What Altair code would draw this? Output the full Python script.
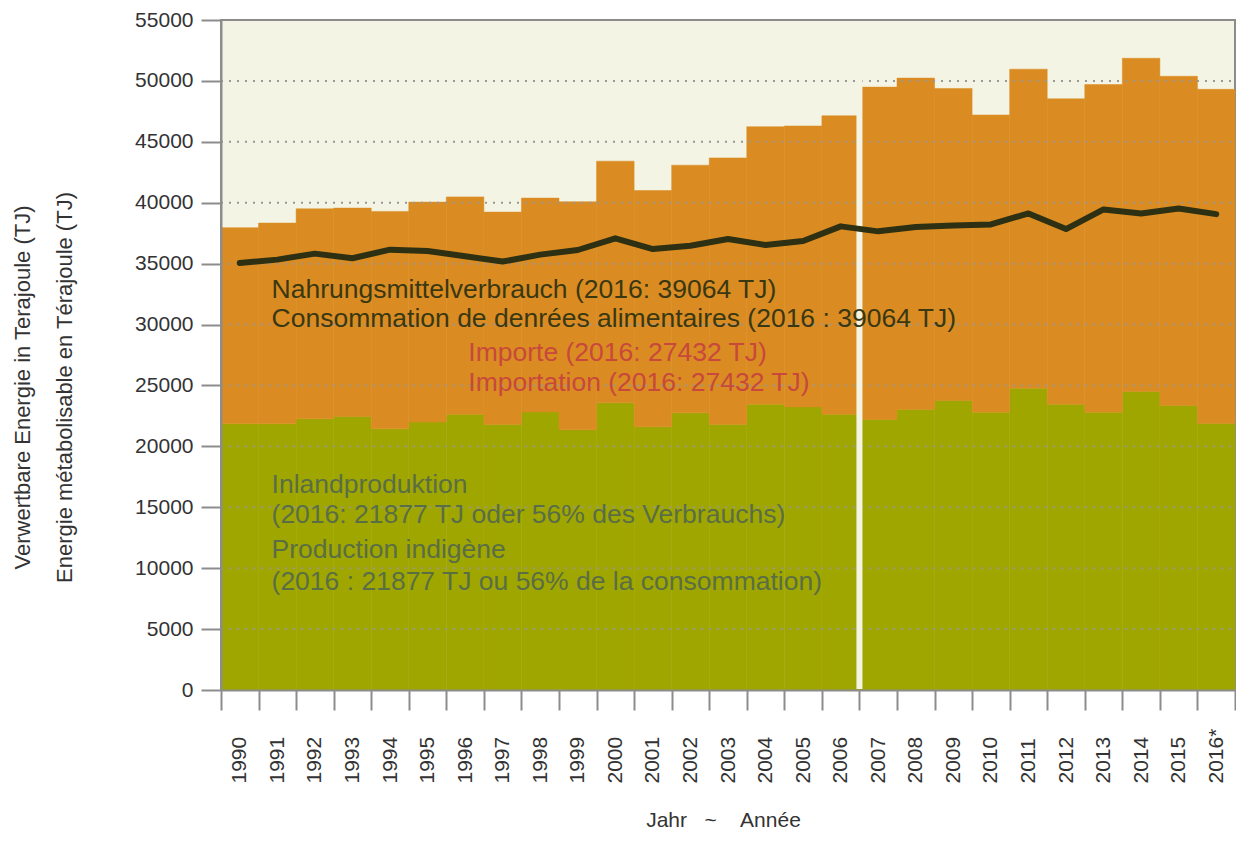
import altair as alt
import pandas as pd

years = ["1990", "1991", "1992", "1993", "1994", "1995", "1996", "1997", "1998", "1999",
         "2000", "2001", "2002", "2003", "2004", "2005", "2006", "2007", "2008", "2009",
         "2010", "2011", "2012", "2013", "2014", "2015", "2016*"]
domestic = [21850, 21850, 22260, 22450, 21440, 21990, 22640, 21800, 22830, 21360,
            23570, 21610, 22750, 21800, 23460, 23240, 22640, 22210, 23030, 23760,
            22810, 24770, 23460, 22810, 24500, 23350, 21877]
imports = [16100, 16480, 17240, 17110, 17850, 18060, 17840, 17430, 17550, 18720,
           19840, 19390, 20330, 21880, 22780, 23060, 24500, 27280, 27200, 25620,
           24390, 26190, 25070, 26890, 27360, 27030, 27432]
consumption = [35060, 35330, 35820, 35440, 36150, 36040, 35600, 35170, 35740, 36120,
               37080, 36200, 36470, 37020, 36530, 36860, 38060, 37650, 38000, 38140,
               38220, 39120, 37840, 39450, 39120, 39530, 39064]
y_ticks = list(range(0, 55001, 5000))
grid_values = list(range(5000, 50001, 5000))
break_year = ["2007"]

ann_left_text = ["Nahrungsmittelverbrauch (2016: 39064 TJ)",
                 "Consommation de denrées alimentaires (2016 : 39064 TJ)",
                 "Inlandproduktion",
                 "(2016: 21877 TJ oder 56% des Verbrauchs)",
                 "Production indigène",
                 "(2016 : 21877 TJ ou 56% de la consommation)"]
ann_left_y = [32165, 29792, 16205, 13668, 10804, 8185]
ann_left_color = ["#3a3812", "#3a3812", "#5a6e46", "#5a6e46", "#5a6e46", "#5a6e46"]
ann_right_text = ["Importe (2016: 27432 TJ)", "Importation (2016: 27432 TJ)"]
ann_right_y = [27009, 24554]

W, H = 1014, 670
CREAM = "#f4f4e4"
GREY = "#8c8c8c"
FONT = "Liberation Sans"

df = pd.DataFrame({"year": years, "domestic": domestic, "imports": imports,
                   "consumption": consumption})

x_scale = alt.Scale(domain=years, paddingInner=0, paddingOuter=0)
y_scale = alt.Scale(domain=[0, 55000], nice=False)

x_axis = alt.Axis(
    title="Jahr\u00a0\u00a0\u00a0~\u00a0\u00a0\u00a0\u00a0Année",
    tickBand="extent", labelAngle=270, labelAlign="left", labelBaseline="middle",
    labelPadding=73, labelFont=FONT, labelFontSize=21, labelColor="#333333",
    labelOverlap=False, labelFlush=False, grid=False,
    tickSize=20, tickWidth=2, tickColor=GREY, domainColor=GREY, domainWidth=2,
    titleX=502, titleY=136, titleAlign="center", titleBaseline="alphabetic",
    titleFont=FONT, titleFontSize=21, titleFontWeight="normal", titleColor="#333333",
    zindex=1)
y_axis = alt.Axis(
    title=["Verwertbare Energie in Terajoule (TJ)", "Energie métabolisable en Térajoule (TJ)"],
    values=y_ticks, format="d", grid=False,
    labelFont=FONT, labelFontSize=21, labelColor="#333333", labelPadding=8,
    tickSize=20, tickWidth=2, tickColor=GREY, domainColor=GREY, domainWidth=2,
    titleFont=FONT, titleFontSize=22, titleFontWeight="normal", titleColor="#333333",
    titleLineHeight=42, titleAngle=270, titleX=-199, titleY=367,
    titleAlign="center", titleBaseline="middle", zindex=1)

X = alt.X("year:O", scale=x_scale, axis=x_axis)

base = alt.Chart(df)

green = base.mark_bar(color="#a0a600", stroke="#a0a600", strokeWidth=0.5).encode(
    x=X,
    y=alt.Y("domestic:Q", scale=y_scale, axis=y_axis),
)
orange = base.transform_calculate(total="datum.domestic + datum.imports").mark_bar(
    color="#da8c22", stroke="#da8c22", strokeWidth=0.5).encode(
    x=X,
    y=alt.Y("total:Q", scale=y_scale, axis=y_axis),
    y2="domestic:Q",
)
grid = alt.Chart(pd.DataFrame({"v": grid_values})).mark_rule(
    color="#979797", strokeWidth=2, strokeDash=[2, 6]).encode(
    y=alt.Y("v:Q", scale=y_scale, axis=y_axis),
    x=alt.value(0), x2=alt.value(W),
)
gap = alt.Chart(pd.DataFrame({"year": break_year})).mark_rule(
    color=CREAM, strokeWidth=6).encode(
    x=alt.X("year:O", scale=x_scale, axis=x_axis, bandPosition=0),
    y=alt.value(1), y2=alt.value(H - 1),
)
line = base.mark_line(color="#2d3012", strokeWidth=6, strokeCap="round",
                      strokeJoin="round").encode(
    x=X,
    y=alt.Y("consumption:Q", scale=y_scale, axis=y_axis),
)
ann_left = alt.Chart(pd.DataFrame({"year": ["1991"] * len(ann_left_text), "v": ann_left_y,
                                   "t": ann_left_text, "c": ann_left_color})).mark_text(
    align="left", baseline="alphabetic", dx=13, font=FONT, fontSize=26.5).encode(
    x=alt.X("year:O", scale=x_scale, axis=x_axis, bandPosition=0),
    y=alt.Y("v:Q", scale=y_scale, axis=y_axis),
    text="t:N", color=alt.Color("c:N", scale=None),
)
ann_right = alt.Chart(pd.DataFrame({"year": ["1996"] * len(ann_right_text), "v": ann_right_y,
                                    "t": ann_right_text})).mark_text(
    align="left", baseline="alphabetic", dx=22, font=FONT, fontSize=26.5,
    color="#c8483c").encode(
    x=alt.X("year:O", scale=x_scale, axis=x_axis, bandPosition=0),
    y=alt.Y("v:Q", scale=y_scale, axis=y_axis),
    text="t:N",
)

chart = alt.layer(green, orange, grid, gap, line, ann_left, ann_right).properties(
    width=W, height=H,
    autosize=alt.AutoSizeParams(type="none"),
    padding={"left": 213, "top": 12, "right": 1, "bottom": 145},
).configure_view(fill=CREAM, stroke=GREY, strokeWidth=2)

chart.save("out.html", embed_options={"renderer": "svg", "actions": False})
